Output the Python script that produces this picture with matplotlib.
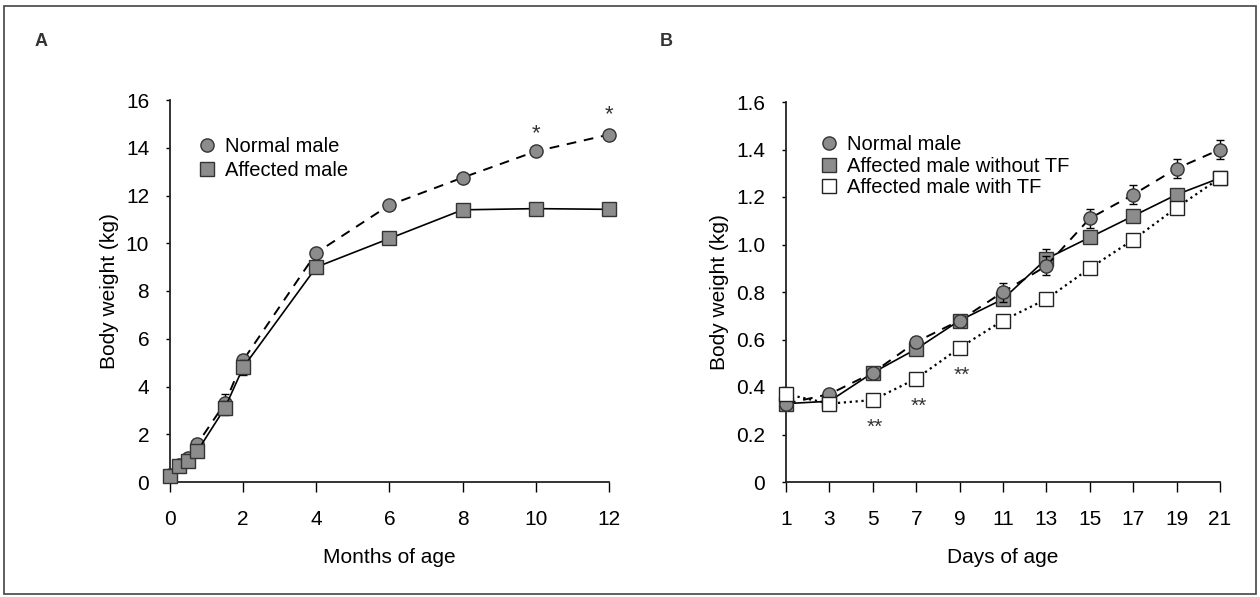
import matplotlib
matplotlib.use("Agg")
import matplotlib.pyplot as plt
from matplotlib.lines import Line2D
from matplotlib.patches import Rectangle

plt.rcParams["font.family"] = ["Liberation Sans", "DejaVu Sans"]

# Panel A - months of age
months = [0, 0.25, 0.5, 0.75, 1.5, 2, 4, 6, 8, 10, 12]
normal_a = [0.3, 0.7, 1.0, 1.6, 3.3, 5.1, 9.6, 11.6, 12.75, 13.85, 14.55]
normal_a_err = [0.1, 0.1, 0.1, 0.2, 0.4, 0.2, 0.1, 0.1, 0.1, 0.1, 0.1]
affected_a = [0.25, 0.65, 0.9, 1.3, 3.1, 4.8, 9.0, 10.2, 11.4, 11.45, 11.42]
affected_a_err = [0.1, 0.1, 0.1, 0.2, 0.3, 0.3, 0.1, 0.1, 0.1, 0.1, 0.1]
star_months = [10, 12]
star_a_y = [14.6, 15.4]

# Panel B - days of age
days = [1, 3, 5, 7, 9, 11, 13, 15, 17, 19, 21]
normal_b = [0.33, 0.37, 0.46, 0.59, 0.68, 0.80, 0.91, 1.11, 1.21, 1.32, 1.40]
normal_b_err = [0.01, 0.01, 0.01, 0.02, 0.01, 0.04, 0.04, 0.04, 0.04, 0.04, 0.04]
without_tf = [0.33, 0.34, 0.46, 0.56, 0.68, 0.77, 0.94, 1.03, 1.12, 1.21, 1.28]
without_tf_err = [0.01, 0.01, 0.01, 0.01, 0.01, 0.01, 0.04, 0.01, 0.01, 0.02, 0.01]
with_tf = [0.37, 0.33, 0.345, 0.435, 0.565, 0.68, 0.77, 0.90, 1.02, 1.155, 1.28]
star_days = [5.1, 7.1, 9.1]
star_b_y = [0.23, 0.32, 0.45]

gray = "#8c8c8c"
edge = "#333333"
FS = 15

fig = plt.figure(figsize=(12.6, 5.97), dpi=100)
W, H = 1260, 597
fig.patches.append(Rectangle((4 / W, 3 / H), 1252 / W, 588 / H, transform=fig.transFigure,
                             fill=False, edgecolor="#444444", linewidth=1.2))


def make_axes(left, right, top, bottom):
    return fig.add_axes([left / W, (H - bottom) / H, (right - left) / W, (bottom - top) / H])


def style(ax):
    ax.spines["top"].set_visible(False)
    ax.spines["right"].set_visible(False)
    for s in ("left", "bottom"):
        ax.spines[s].set_linewidth(1.3)
        ax.spines[s].set_color("#222222")
    ax.tick_params(axis="x", direction="out", length=7, width=1, pad=13, labelsize=FS)
    ax.tick_params(axis="y", direction="out", length=3, width=1, pad=12, labelsize=FS)


# ---- A ----
axA = make_axes(170, 609, 100, 482)
axA.errorbar(months, normal_a, yerr=normal_a_err, fmt="o", ls="--", dashes=(5, 4), color="black",
             mfc=gray, mec=edge, ms=9.5, lw=1.4, capsize=3, elinewidth=1, clip_on=False, zorder=3)
axA.errorbar(months, affected_a, yerr=affected_a_err, fmt="s", ls="-", color="black",
             mfc=gray, mec=edge, ms=9.5, lw=1.2, capsize=3, elinewidth=1, clip_on=False, zorder=4)
for x, y in zip(star_months, star_a_y):
    axA.text(x, y, "*", ha="center", va="center", fontsize=16, color="#333333")
axA.set_xlim(0, 12)
axA.set_ylim(0, 16)
axA.set_xticks(range(0, 13, 2))
axA.set_yticks(range(0, 17, 2))
style(axA)
axA.set_xlabel("Months of age", fontsize=FS, labelpad=14)
axA.set_ylabel("Body weight (kg)", fontsize=FS, labelpad=5)
hA = [Line2D([], [], marker="o", ls="none", mfc=gray, mec=edge, ms=9.5),
      Line2D([], [], marker="s", ls="none", mfc=gray, mec=edge, ms=9.5)]
axA.legend(hA, ["Normal male", "Affected male"], loc="upper left", bbox_to_anchor=(0.015, 0.95),
           frameon=False, fontsize=14.5, handletextpad=0.3, labelspacing=0.25, handlelength=1.2)
fig.text(35 / W, 1 - 42 / H, "A", fontsize=13, fontweight="bold", color="#333333", va="center")

# ---- B ----
axB = make_axes(786, 1220, 102, 482)
axB.errorbar(days, normal_b, yerr=normal_b_err, fmt="o", ls="--", dashes=(5, 4), color="black",
             mfc=gray, mec=edge, ms=9.5, lw=1.4, capsize=3, elinewidth=1, clip_on=False, zorder=4)
axB.errorbar(days, without_tf, yerr=without_tf_err, fmt="s", ls="-", color="black",
             mfc=gray, mec=edge, ms=9.5, lw=1.2, capsize=3, elinewidth=1, clip_on=False, zorder=3)
axB.plot(days, with_tf, marker="s", ls=":", color="black", mfc="white", mec="#222222",
         ms=10, lw=1.6, clip_on=False, zorder=5)
for x, y in zip(star_days, star_b_y):
    axB.text(x, y, "**", ha="center", va="center", fontsize=15, color="#333333")
axB.set_xlim(1, 21)
axB.set_ylim(0, 1.6)
axB.set_xticks(days)
axB.set_yticks([0, 0.2, 0.4, 0.6, 0.8, 1.0, 1.2, 1.4, 1.6])
axB.set_yticklabels(["0", "0.2", "0.4", "0.6", "0.8", "1.0", "1.2", "1.4", "1.6"])
style(axB)
axB.set_xlabel("Days of age", fontsize=FS, labelpad=14)
axB.set_ylabel("Body weight (kg)", fontsize=FS, labelpad=5)
hB = [Line2D([], [], marker="o", ls="none", mfc=gray, mec=edge, ms=9.5),
      Line2D([], [], marker="s", ls="none", mfc=gray, mec=edge, ms=9.5),
      Line2D([], [], marker="s", ls="none", mfc="white", mec="#222222", ms=10)]
axB.legend(hB, ["Normal male", "Affected male without TF", "Affected male with TF"],
           loc="upper left", bbox_to_anchor=(0.03, 0.96), frameon=False, fontsize=14.5,
           handletextpad=0.3, labelspacing=0.12, handlelength=1.2)
fig.text(660 / W, 1 - 42 / H, "B", fontsize=13, fontweight="bold", color="#333333", va="center")

fig.savefig("out.png", dpi=100)
